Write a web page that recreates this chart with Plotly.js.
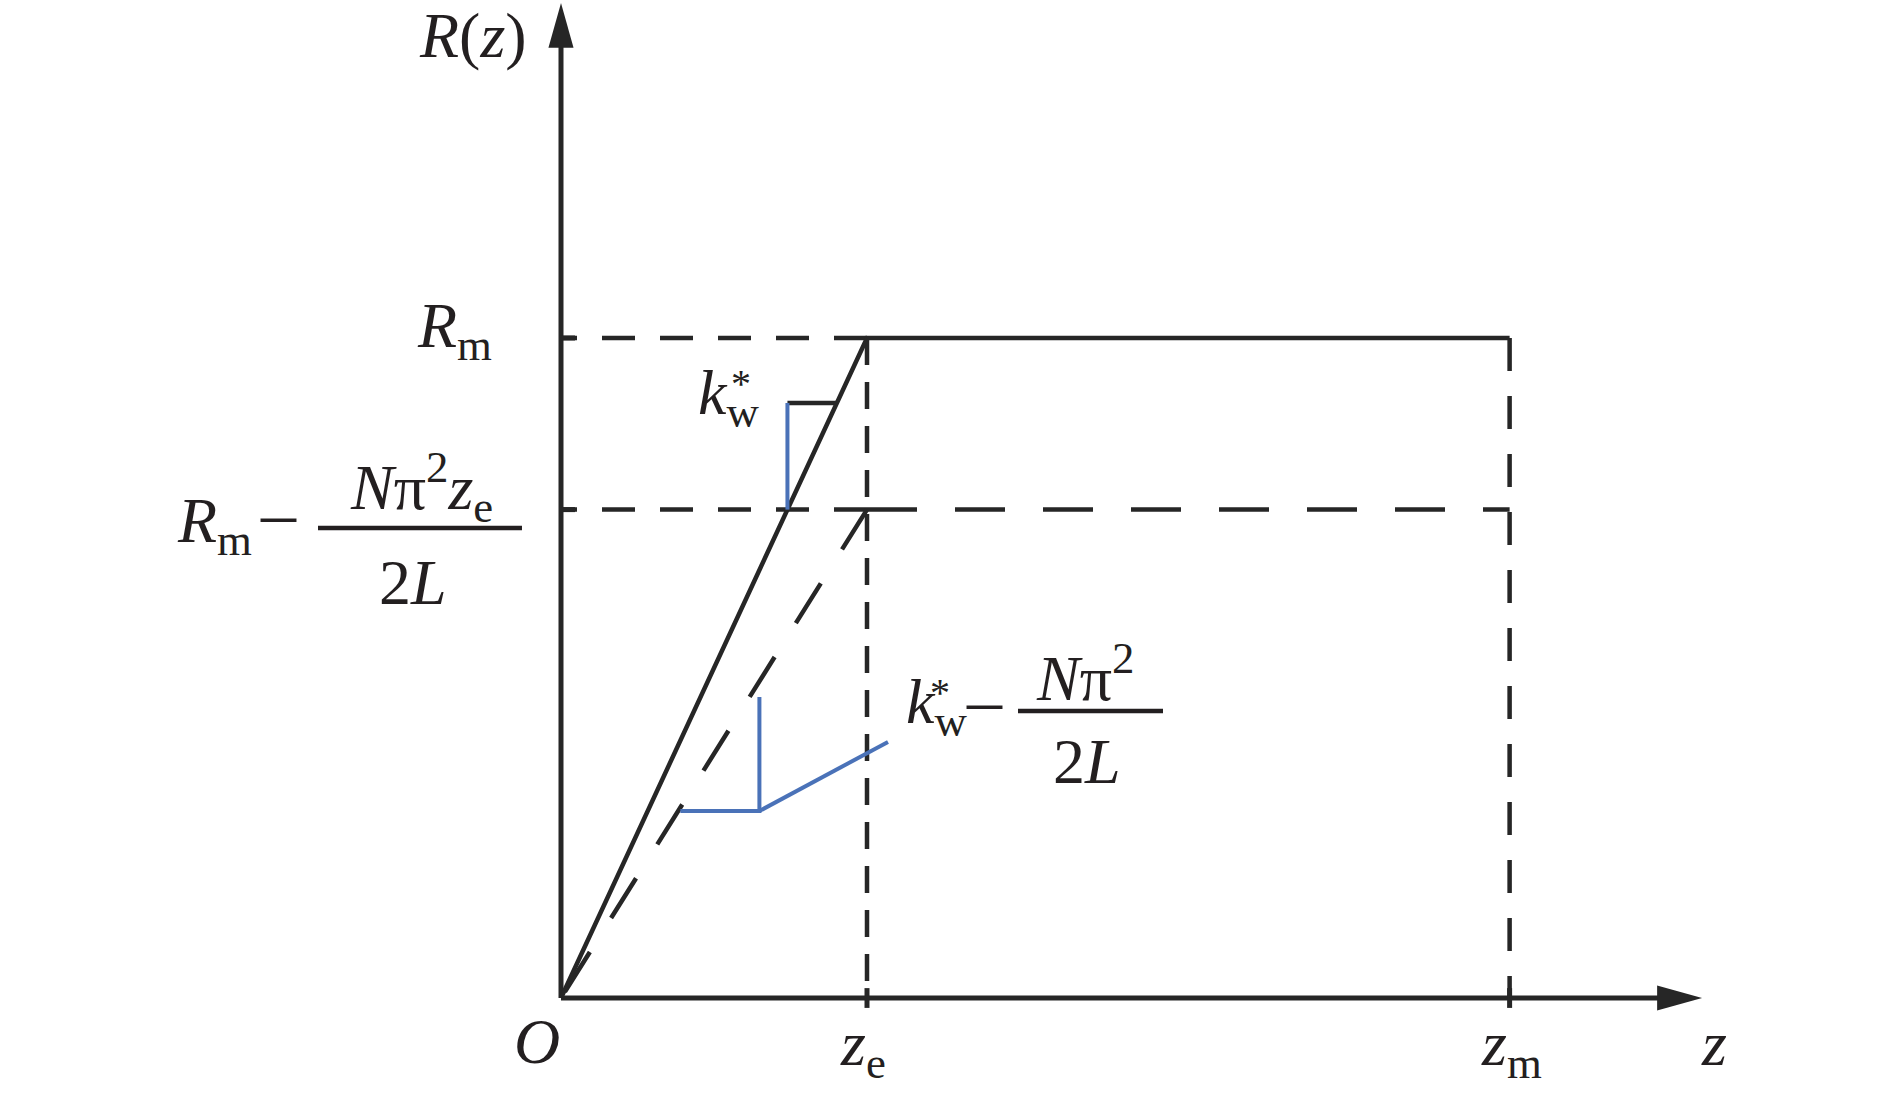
<!DOCTYPE html>
<html>
<head>
<meta charset="utf-8">
<script src="https://cdn.plot.ly/plotly-3.0.1.min.js"></script>
<style>html,body{margin:0;padding:0;background:#fff;}#chart{width:1890px;height:1098px;}</style>
</head>
<body>
<div id="chart"></div>
<script>
// ---- key values (schematic units) ----
const zE = 1.0;          // z_e
const zM = 3.1;          // z_m
const rM = 1.0;          // R_m
const rLow = 0.74;       // R_m - N pi^2 z_e / (2L)

// piecewise solid curve R(z)
const solidZ = [0, zE, zM];
const solidR = [0, rM, rM];
// dashed reduced-slope line
const dashZ = [zE, 0];
const dashR = [rLow, 0];

// slope triangle 1 (k_w*)
const tri1Z = [0.74, 0.74];
const tri1R = [0.74, 0.9015];
const tri1TopZ = [0.74, 0.9015];
const tri1TopR = [0.9015, 0.9015];
// slope triangle 2 (k_w* - N pi^2 / 2L)
const tri2Z = [0.39, 0.6484, 0.6484];
const tri2R = [0.2833, 0.2833, 0.456];
const leaderZ = [0.6484, 1.0686];
const leaderR = [0.2833, 0.388];

// axis extents
const axisZEnd = 3.729, axisREnd = 1.5076;
const arrowLenZ = 0.147, arrowHalfR = 0.019;
const arrowLenR = 0.068, arrowHalfZ = 0.041;
const tickLenZ = 0.046, tickLenR = 0.015;

const black = '#262626';
const blue = '#4a72b8';
const txt = '#231f20';
const FONT = 'Liberation Serif, Times New Roman, serif';
const FS = 64;

function line(x, y, color, width, dash) {
  return {type: 'scatter', mode: 'lines', x: x, y: y, hoverinfo: 'skip',
    line: {color: color, width: width, dash: dash || 'solid'}};
}

const LW = 4.5;
const traces = [
  // axes
  line([0, axisZEnd - arrowLenZ * 0.5], [0, 0], black, 5),
  line([0, 0], [0, axisREnd - arrowLenR * 0.5], black, 5),
  {type: 'scatter', mode: 'lines', fill: 'toself', fillcolor: black, hoverinfo: 'skip',
    x: [axisZEnd, axisZEnd - arrowLenZ, axisZEnd - arrowLenZ, axisZEnd],
    y: [0, arrowHalfR, -arrowHalfR, 0], line: {width: 0, color: black}},
  {type: 'scatter', mode: 'lines', fill: 'toself', fillcolor: black, hoverinfo: 'skip',
    x: [0, arrowHalfZ, -arrowHalfZ, 0],
    y: [axisREnd, axisREnd - arrowLenR, axisREnd - arrowLenR, axisREnd], line: {width: 0, color: black}},
  // ticks
  line([0, tickLenZ], [rM, rM], black, 5),
  line([0, tickLenZ], [rLow, rLow], black, 5),
  line([zM, zM], [-tickLenR, tickLenR], black, 5),
  line([zE, zE], [-tickLenR, tickLenR], black, 5),
  // dashed guides
  line([zE, 0], [rM, rM], black, LW, '33px,25px'),
  line([zE, 0], [rLow, rLow], black, LW, '33px,25px'),
  line([zE, zM], [rLow, rLow], black, LW, '50px,38px'),
  line([zE, zE], [rM, 0], black, LW, '27px,17px'),
  line([zM, zM], [rM, 0], black, LW, '33px,25px'),
  line(dashZ, dashR, black, LW, '47px,40px'),
  // solid R(z)
  line(solidZ, solidR, black, LW),
  // triangles
  line(tri1TopZ, tri1TopR, black, LW),
  line(tri1Z, tri1R, blue, 4),
  line(tri2Z, tri2R, blue, 4),
  line(leaderZ, leaderR, blue, 4)
];

function ann(text, x, y, opts) {
  return Object.assign({text: text, x: x, y: y, xref: 'x', yref: 'y', showarrow: false,
    xanchor: 'center', yanchor: 'middle',
    font: {family: FONT, size: FS, color: txt}}, opts || {});
}
const starFont = {family: FONT, size: 40, color: txt};
const minusFont = {family: FONT, size: 70, color: txt};

const annotations = [
  ann('<i>R</i>(<i>z</i>)', -0.2876, 1.4576),
  ann('<i>R</i><sub>m</sub>', -0.219, 1.012, {xanchor: 'right'}),
  ann('<i>R</i><sub>m</sub>', -1.0033, 0.7167, {xanchor: 'right'}),
  ann('–', -0.9216, 0.7348, {font: minusFont}),
  ann('<i>N</i>π<sup>2</sup><i>z</i><sub>e</sub>', -0.4575, 0.7742),
  ann('2<i>L</i>', -0.4837, 0.6288),
  ann('<i>k</i><sub>w</sub>', 0.549, 0.9106),
  ann('*', 0.588, 0.9318, {font: starFont}),
  ann('<i>k</i><sub>w</sub>', 1.1209, 0.4424, {xanchor: 'left'}),
  ann('*', 1.2386, 0.4636, {font: starFont}),
  ann('–', 1.3856, 0.4515, {font: minusFont}),
  ann('<i>N</i>π<sup>2</sup>', 1.7124, 0.491),
  ann('2<i>L</i>', 1.719, 0.3576),
  ann('<i>O</i>', -0.0784, -0.0652),
  ann('<i>z</i><sub>e</sub>', zE - 0.013, -0.0758),
  ann('<i>z</i><sub>m</sub>', zM + 0.0046, -0.0758),
  ann('<i>z</i>', 3.768, -0.0682)
];

const shapes = [
  {type: 'line', xref: 'x', yref: 'y', x0: -0.7941, x1: -0.1275, y0: 0.7121, y1: 0.7121,
    line: {color: txt, width: 4.5}},
  {type: 'line', xref: 'x', yref: 'y', x0: 1.4935, x1: 1.9673, y0: 0.4348, y1: 0.4348,
    line: {color: txt, width: 4.5}}
];

const layout = {
  width: 1890, height: 1098,
  margin: {l: 0, r: 0, t: 0, b: 0, pad: 0},
  paper_bgcolor: '#ffffff', plot_bgcolor: '#ffffff',
  showlegend: false,
  xaxis: {range: [-1.8333, 4.3431], visible: false, fixedrange: true},
  yaxis: {range: [-0.1515, 1.5121], visible: false, fixedrange: true},
  annotations: annotations,
  shapes: shapes
};

Plotly.newPlot('chart', traces, layout, {displayModeBar: false, staticPlot: true});
</script>
</body>
</html>
